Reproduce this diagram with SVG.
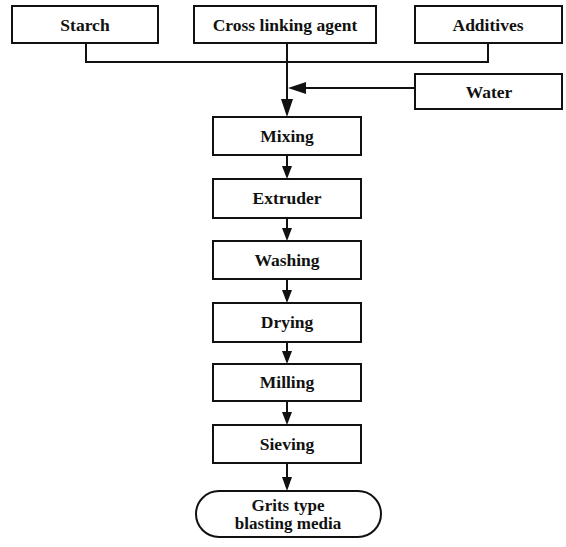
<svg xmlns="http://www.w3.org/2000/svg" width="566" height="547" viewBox="0 0 566 547">
<defs>
<style>
.box{fill:#fff;stroke:#111;stroke-width:2}
.t{font-family:"Liberation Serif","Times New Roman",serif;font-weight:bold;font-size:17.5px;fill:#111;text-anchor:middle}
.t2{font-size:17px}
.ln{fill:none;stroke:#111;stroke-width:2}
.ah{fill:#111;stroke:none}
</style>
</defs>
<rect width="566" height="547" fill="#fff"/>
<g id="connectors">
<polyline class="ln" points="86,43 86,62 488,62 488,43"/>
<line class="ln" x1="287" y1="43" x2="287" y2="100"/>
<polygon class="ah" points="281,99 293,99 287,117"/>
<line class="ln" x1="415" y1="88" x2="305" y2="88"/>
<polygon class="ah" points="288,88 306,82 306,94"/>
<line class="ln" x1="287" y1="155" x2="287" y2="167"/>
<polygon class="ah" points="282,166 292,166 287,179"/>
<line class="ln" x1="287" y1="218" x2="287" y2="229"/>
<polygon class="ah" points="282,228 292,228 287,241"/>
<line class="ln" x1="287" y1="279" x2="287" y2="291"/>
<polygon class="ah" points="282,290 292,290 287,303"/>
<line class="ln" x1="287" y1="342" x2="287" y2="352"/>
<polygon class="ah" points="282,351 292,351 287,364"/>
<line class="ln" x1="287" y1="401" x2="287" y2="413"/>
<polygon class="ah" points="282,412 292,412 287,425"/>
<line class="ln" x1="287" y1="463" x2="287" y2="478"/>
<polygon class="ah" points="282,477 292,477 287,491"/>
</g>
<g id="starch"><rect class="box" x="12" y="6" width="146" height="37"/><text class="t" x="85" y="31">Starch</text></g>
<g id="crosslinking"><rect class="box" x="194" y="6" width="182" height="37"/><text class="t" x="285" y="31">Cross linking agent</text></g>
<g id="additives"><rect class="box" x="415" y="6" width="147" height="37"/><text class="t" x="488" y="31">Additives</text></g>
<g id="water"><rect class="box" x="415" y="74" width="147" height="35"/><text class="t" x="489" y="98">Water</text></g>
<g id="mixing"><rect class="box" x="213" y="117" width="148" height="38"/><text class="t" x="287" y="142">Mixing</text></g>
<g id="extruder"><rect class="box" x="213" y="179" width="148" height="39"/><text class="t" x="287" y="204">Extruder</text></g>
<g id="washing"><rect class="box" x="213" y="241" width="148" height="38"/><text class="t" x="287" y="266">Washing</text></g>
<g id="drying"><rect class="box" x="213" y="303" width="148" height="39"/><text class="t" x="287" y="328">Drying</text></g>
<g id="milling"><rect class="box" x="213" y="364" width="148" height="37"/><text class="t" x="287" y="388">Milling</text></g>
<g id="sieving"><rect class="box" x="213" y="425" width="148" height="38"/><text class="t" x="287" y="450">Sieving</text></g>
<g id="grits"><rect class="box" x="196" y="491" width="185" height="46" rx="23" ry="23"/><text class="t t2" x="288" y="511">Grits type</text><text class="t t2" x="288" y="529">blasting media</text></g>
</svg>
